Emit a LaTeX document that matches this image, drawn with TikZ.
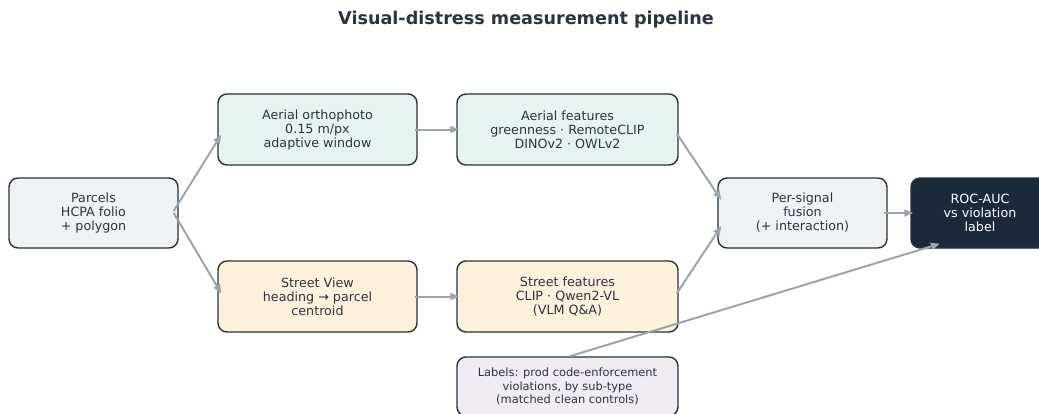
\documentclass[tikz,border=0pt]{standalone}
\usepackage{fontspec}
\newfontfamily\dv{DejaVu Sans}
\usetikzlibrary{arrows.meta,calc}
\definecolor{edgec}{HTML}{27313D}
\definecolor{txt}{HTML}{2B3440}
\definecolor{arr}{HTML}{9AA5AE}
\definecolor{fgrey}{HTML}{EEF2F5}
\definecolor{fteal}{HTML}{E6F3F1}
\definecolor{fcream}{HTML}{FDF1DC}
\definecolor{flav}{HTML}{F1ECF4}
\definecolor{fdark}{HTML}{1B2A38}
\begin{document}
\begin{tikzpicture}[x=1pt,y=-1pt,
  box/.style={draw=edgec, line width=1.4pt, rounded corners=9pt, align=center,
    font=\dv\fontsize{12.7}{14}\selectfont, text=txt, inner sep=0pt},
  conn/.style={draw=arr, line width=2pt, -{Triangle[length=9pt,width=7pt]}}]
\useasboundingbox (0,0) rectangle (1039,413);
\node[font=\dv\bfseries\fontsize{17.6}{20}\selectfont, text=txt] (title) at (526,19.5) {Visual-distress measurement pipeline};
\node[box, fill=fgrey, minimum width=169pt, minimum height=70pt] (parcels) at (93.5,213) {Parcels\\HCPA folio\\+ polygon};
\node[box, fill=fteal, minimum width=199pt, minimum height=71pt] (ortho) at (317.5,129.5) {Aerial orthophoto\\0.15 m/px\\adaptive window};
\node[box, fill=fteal, minimum width=221pt, minimum height=71pt] (afeat) at (567.5,129.5) {Aerial features\\greenness · RemoteCLIP\\DINOv2 · OWLv2};
\node[box, fill=fcream, minimum width=199pt, minimum height=71pt] (sview) at (317.5,296.5) {Street View\\heading → parcel\\centroid};
\node[box, fill=fcream, minimum width=221pt, minimum height=71pt] (sfeat) at (567.5,296.5) {Street features\\CLIP · Qwen2-VL\\(VLM Q\&A)};
\node[box, fill=flav, minimum width=221pt, minimum height=59pt, font=\dv\fontsize{11.4}{13.7}\selectfont] (labels) at (567.5,386.5) {Labels: prod code-enforcement\\violations, by sub-type\\(matched clean controls)};
\node[box, fill=fgrey, minimum width=169pt, minimum height=70pt] (fusion) at (802.5,213) {Per-signal\\fusion\\(+ interaction)};
\node[box, fill=fdark, text=white, minimum width=138pt, minimum height=70pt] (roc) at (980,213) {ROC-AUC\\vs violation\\label};
\draw[conn] ($(parcels.east)+(-5,-2)$) -- ($(ortho.west)+(4,5)$);
\draw[conn] ($(parcels.east)+(-5,0)$) -- ($(sview.west)+(4,-3)$);
\draw[conn] ($(ortho.east)+(-3,0)$) -- ($(afeat.west)+(3,0)$);
\draw[conn] ($(sview.east)+(-3,0)$) -- ($(sfeat.west)+(3,0)$);
\draw[conn] ($(afeat.east)+(-2,4)$) -- ($(fusion.west)+(4,-13)$);
\draw[conn] ($(sfeat.east)+(-2,-3)$) -- ($(fusion.west)+(4,13)$);
\draw[conn] ($(fusion.east)+(-4,0)$) -- ($(roc.west)+(3,0)$);
\draw[conn] ($(labels.north)+(2,0)$) -- ($(roc.south)+(-40,-5)$);
\end{tikzpicture}
\end{document}
